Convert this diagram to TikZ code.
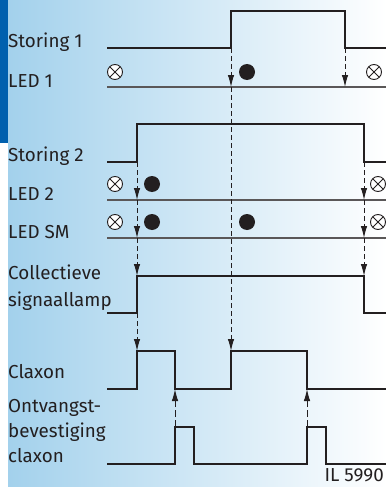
\documentclass[tikz,border=0pt]{standalone}
\usepackage{fontspec}
\setmainfont{Fira Sans}
\usetikzlibrary{arrows.meta}
\definecolor{bgblue}{RGB}{163,209,236}
\definecolor{barblue}{RGB}{0,96,174}
\definecolor{ink}{RGB}{35,31,32}
\begin{document}
\begin{tikzpicture}[x=1pt,y=-1pt,
  lbl/.style={anchor=base west,inner sep=0pt,text=ink,font=\fontsize{18.8}{21}\selectfont},
  sig/.style={draw=ink,line width=1.4pt},
  ledline/.style={draw=ink!75,line width=1.4pt},
  trig/.style={draw=ink,line width=1pt,dash pattern=on 5pt off 3pt,-{Latex[length=12pt,width=6.5pt]}},
  ack/.style={draw=ink,line width=1pt,dash pattern=on 7pt off 3pt,-{Latex[length=12pt,width=6.5pt]}},
  off/.style={circle,draw=ink,fill=white,line width=0.9pt,minimum size=15pt,inner sep=0pt,
    path picture={\draw[ink,line width=0.9pt] (path picture bounding box.south west)--(path picture bounding box.north east)
      (path picture bounding box.north west)--(path picture bounding box.south east);}},
  on/.style={circle,fill=ink,minimum size=16pt,inner sep=0pt}]
\useasboundingbox (0,0) rectangle (387,487);
\shade[left color=bgblue,right color=white] (8,0) rectangle (387,487);
\fill[barblue] (0,0) rectangle (8,143);
% labels
\node[lbl] (l1) at (8,48) {Storing 1};
\node[lbl] (l2) at (8,87) {LED 1};
\node[lbl] (l3) at (8,161) {Storing 2};
\node[lbl] (l4) at (8,200) {LED 2};
\node[lbl] (l5) at (8,238) {LED SM};
\node[lbl] (l6) at (8,279) {Collectieve};
\node[lbl] (l7) at (8,306) {signaallamp};
\node[lbl] (l8) at (8,378) {Claxon};
\node[lbl] (l9) at (8,412) {Ontvangst-};
\node[lbl] (l10) at (8,437) {bevestiging};
\node[lbl] (l11) at (8,462) {claxon};
\node[lbl,anchor=base east] (il) at (384,481) {IL 5990};
% signals
\draw[sig] (107,48) -- (231,48) -- (231,11) -- (345,11) -- (345,48) -- (386,48);
\draw[ledline] (107,87) -- (386,87);
\draw[sig] (107,162) -- (137,162) -- (137,124) -- (364,124) -- (364,162) -- (386,162);
\draw[ledline] (107,200) -- (386,200);
\draw[ledline] (107,238) -- (386,238);
\draw[sig] (107,313) -- (137,313) -- (137,276) -- (364,276) -- (364,313) -- (386,313);
\draw[sig] (107,389) -- (137,389) -- (137,351) -- (175,351) -- (175,389) -- (231,389) -- (231,351) -- (307,351) -- (307,389) -- (386,389);
\draw[sig] (107,464) -- (175,464) -- (175,427) -- (194,427) -- (194,464) -- (307,464) -- (307,427) -- (326,427) -- (326,464) -- (386,464);
% lamps
\node[off] (o1) at (115,72) {};
\node[on]  (d1) at (247,72) {};
\node[off] (o2) at (374,72) {};
\node[off] (o3) at (115,184) {};
\node[on]  (d2) at (152,184) {};
\node[off] (o4) at (378,184) {};
\node[off] (o5) at (115,222) {};
\node[on]  (d3) at (152,222) {};
\node[on]  (d4) at (247,222) {};
\node[off] (o6) at (378,222) {};
% arrow coordinates
\coordinate (a0) at (231,48);
\coordinate (a1) at (231,87);
\coordinate (a2) at (231,351);
\coordinate (b0) at (345,48);
\coordinate (b1) at (345,87);
\coordinate (c0) at (137,162);
\coordinate (c1) at (137,200);
\coordinate (c2) at (137,238);
\coordinate (c3) at (137,276);
\coordinate (c4) at (137,313);
\coordinate (c5) at (137,351);
\coordinate (e0) at (364,162);
\coordinate (e1) at (364,200);
\coordinate (e2) at (364,238);
\coordinate (e3) at (364,276);
\coordinate (f0) at (175,427);
\coordinate (f1) at (175,389);
\coordinate (g0) at (307,427);
\coordinate (g1) at (307,389);
\draw[trig] (a0) -- (a1);
\draw[trig] (a1) -- (a2);
\draw[trig] (b0) -- (b1);
\draw[trig] (c0) -- (c1);
\draw[trig] (c1) -- (c2);
\draw[trig] (c2) -- (c3);
\draw[trig] (c4) -- (c5);
\draw[trig] (e0) -- (e1);
\draw[trig] (e1) -- (e2);
\draw[trig] (e2) -- (e3);
\draw[ack] (f0) -- (f1);
\draw[ack] (g0) -- (g1);
\end{tikzpicture}
\end{document}
